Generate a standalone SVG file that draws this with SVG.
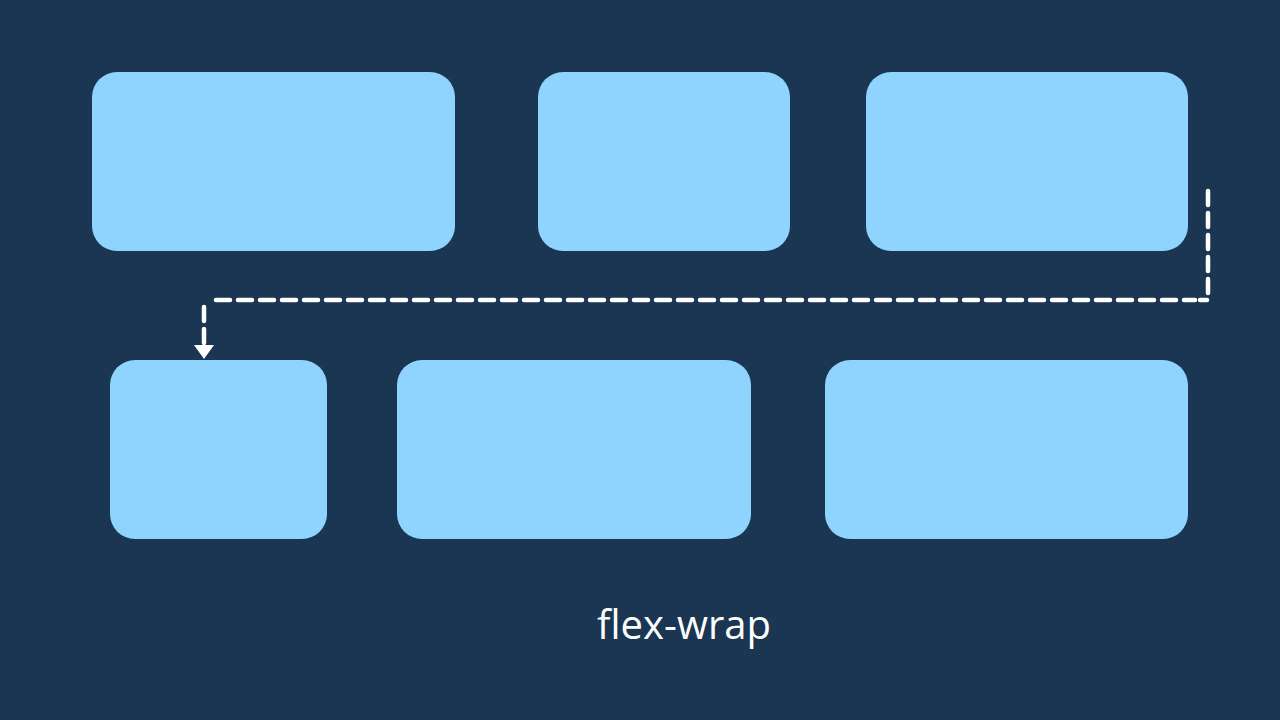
<svg xmlns="http://www.w3.org/2000/svg" width="1280" height="720" viewBox="0 0 1280 720">
<defs>
<style>
.box{fill:#8ed4fe;}
.conn{fill:none;stroke:#ffffff;stroke-width:4.5;stroke-dasharray:14 8;stroke-linecap:round;stroke-linejoin:round;}
.label{font-family:"Open Sans","Noto Sans",sans-serif;font-size:40px;fill:#ffffff;text-anchor:middle;}
</style>
</defs>
<rect width="1280" height="720" fill="#1b3652"/>
<g id="item1"><rect class="box" x="92" y="72" width="363" height="179" rx="25"/></g>
<g id="item2"><rect class="box" x="538" y="72" width="252" height="179" rx="25"/></g>
<g id="item3"><rect class="box" x="866" y="72" width="322" height="179" rx="25"/></g>
<g id="item4"><rect class="box" x="110" y="360" width="217" height="179" rx="25"/></g>
<g id="item5"><rect class="box" x="397" y="360" width="354" height="179" rx="25"/></g>
<g id="item6"><rect class="box" x="825" y="360" width="363" height="179" rx="25"/></g>
<g id="connectors">
<path class="conn" d="M1208,191 L1208,300 L1200,300"/>
<path class="conn" d="M216,300 L1195,300"/>
<path class="conn" d="M204,307 L204,350"/>
<path d="M194,345 L214,345 L204,359 Z" fill="#ffffff"/>
</g>
<g id="caption"><text class="label" x="684" y="639">flex-wrap</text></g>
</svg>
